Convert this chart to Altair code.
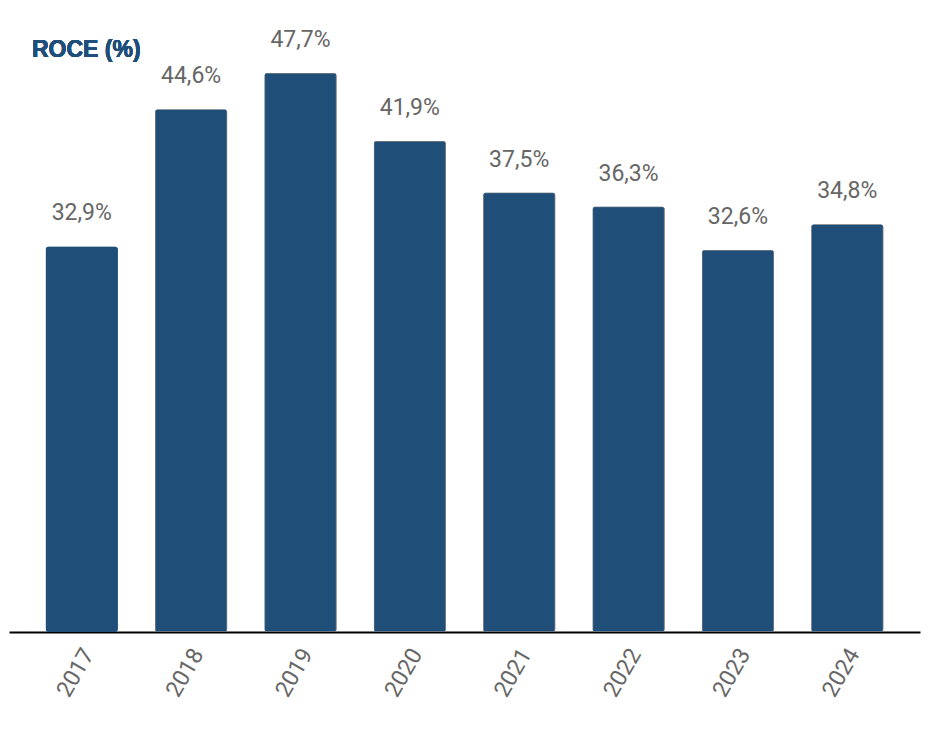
import altair as alt
import pandas as pd

years = ["2017", "2018", "2019", "2020", "2021", "2022", "2023", "2024"]
roce = [32.9, 44.6, 47.7, 41.9, 37.5, 36.3, 32.6, 34.8]
labels = ["32,9%", "44,6%", "47,7%", "41,9%", "37,5%", "36,3%", "32,6%", "34,8%"]
outline = ["none", "gray", "gray", "gray", "gray", "gray", "gray", "gray"]

df = pd.DataFrame({"year": years, "roce": roce, "label": labels, "outline": outline})

x = alt.X("year:N", sort=years, title=None,
          scale=alt.Scale(paddingInner=0.34, paddingOuter=0.335),
          axis=alt.Axis(labelAngle=-60, labelAlign="right", labelBaseline="middle",
                        labelFont="Roboto", labelFontSize=23, labelColor="#666666",
                        labelPadding=18, labelOffset=7, ticks=False,
                        domainColor="#000000", domainWidth=2))
y = alt.Y("roce:Q", title=None, scale=alt.Scale(domain=[0, 50], nice=False),
          axis=None)

bars = alt.Chart(df).mark_bar(color="#1f4e79", cornerRadius=3, strokeWidth=1.5).encode(
    x=x, y=y,
    stroke=alt.Stroke("outline:N", scale=alt.Scale(domain=["none", "gray"],
                                                   range=["#1f4e79", "#7f7f7f"]),
                      legend=None),
)

text = alt.Chart(df).mark_text(font="Roboto", fontSize=23, color="#666666",
                               baseline="bottom", dy=-21).encode(
    x=alt.X("year:N", sort=years), y="roce:Q", text="label:N")

title = alt.Chart(df).mark_text(text="ROCE (%)", font="Liberation Sans", fontSize=23,
                                fontWeight="bold", color="#1f4e79", align="left",
                                baseline="middle").encode(
    x=alt.value(23), y=alt.value(4))

chart = (bars + text + title).properties(
    width=911, height=586,
    padding={"left": 1, "top": 38, "right": 2, "bottom": 100},
    autosize=alt.AutoSizeParams(type="none"),
).configure_view(stroke=None)

chart.save("out.html", embed_options={"renderer": "svg", "actions": False})
